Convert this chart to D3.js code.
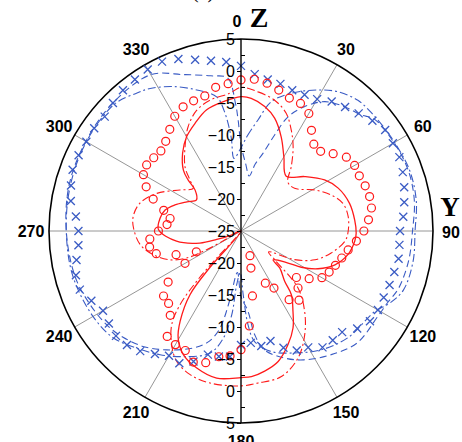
<!DOCTYPE html>
<html><head><meta charset="utf-8">
<script src="https://cdn.jsdelivr.net/npm/d3@7"></script>
<style>body{margin:0;background:#fff;} svg{display:block;}</style>
</head><body>
<svg id="chart" width="462" height="442"></svg>
<script>
// ---------- data ----------
const angleTicks = [0,30,60,90,120,150,180,210,240,270,300,330];
const radialTicks = [-25,-20,-15,-10,-5,0,5];
const minorTicks = [-22.5,-17.5,-12.5,-7.5,-2.5,2.5];

const markerAngles = [0,5,10,15,20,25,30,35,40,45,50,55,60,65,70,75,80,85,90,95,100,105,110,115,
  120,125,130,135,140,145,150,155,160,165,170,175,180,185,190,195,200,205,210,215,220,225,230,235,
  240,245,250,255,260,265,270,275,280,285,290,295,300,305,310,315,320,325,330,335,340,345,350,355];

// blue crosses
const crossValues = [0.8,-0.4,-0.95,-1.2,-1.6,-1.5,-1.2,-0.3,0.3,1.0,1.8,2.5,2.4,2.3,1.9,1.4,0.9,0.45,
  -0.15,-0.15,0,-0.2,-0.3,-0.4,-0.3,-0.4,-1.3,-2.65,-2.7,-2.8,-4.0,-4.4,-5.6,-7.2,-6.75,-7.45,
  -7.2,-5.3,-5.1,-5.0,-3.3,-2.2,-2.5,-1.55,-0.5,0.2,0.5,0.2,-0.1,0.8,1.8,1.7,1.1,0.5,
  0.4,0.9,2.0,2.5,3.0,3.0,2.9,3.0,2.8,3.3,3.7,3.9,4.15,4.2,3.6,2.7,2.0,1.5];

// red circles
const circleValues = [-1.4,-1.2,-1.55,-2.2,-2.9,-3.0,-3.8,-5.8,-7.3,-7.4,-6.2,-4.9,-4.5,-4.6,-4.35,-4.2,-4.3,-5.0,
  -5.8,-6.9,-8.0,-8.7,-9.3,-9.8,-10.4,-12.0,-13.7,-12.4,-10.9,-11.9,-14.7,-16.0,-20.9,-19,-14.7,-10.1,
  -6.45,-5.4,-5.05,-3.7,-3.2,-4.4,-4.5,-4.9,-7.8,-9.0,-9.2,-11.1,-14.9,-17.3,-14.2,-11.3,-10.5,-10.7,
  -12.1,-13.4,-13.75,-12.5,-10.4,-8.65,-7.4,-7.0,-7.2,-7.3,-6.7,-5.6,-4.3,-3.6,-3.35,-3.15,-2.2,-1.9];

// blue dashed line [angle, value]
const blueDashed = [[0,-11.5],[4,-14.5],[8.5,-16.3],[12,-14.3],[15.8,-12.4],[19.3,-9.1],[22.4,-5.7],[27,-3.2],
  [33,-0.9],[40,0.3],[46,1.1],[50,2.2],[60,2.6],[70,2.8],[80,2.5],[90,1.8],[100,1.6],[110,1.2],[116,0.5],
  [122,0.2],[134,0.2],[144,-1.1],[154,-2.6],[161,-4.0],[169,-6.1],[172.5,-8.7],[175,-12.4],[180,-14.8],
  [185,-18.5],[189,-14.5],[191,-11],[192.5,-9.2],[196,-7.1],[202,-5.3],[212,-3.1],[220,-1.4],[228,-0.2],
  [235,0.6],[245,1.3],[255,1.9],[270,2.3],[285,2.8],[300,3.0],[315,3.3],[330,3.2],[340,1.0],[349,-0.3],
  [355,-1.0],[357.5,-5],[358.5,-7.6]];

// blue dash-dot line
const blueDashDot = [[0,-12],[4,-10],[8.7,-7.45],[13.2,-4.25],[20,-2.1],[28.6,0.1],[34.8,1.5],[41.8,2.4],
  [48,2.5],[55,2.6],[60,2.7],[70,3.0],[80,2.8],[90,2.2],[100,2.3],[110,2.0],[116,0.8],[121,-0.6],[135,-1.4],
  [146,-2.6],[155,-4.0],[166,-5.6],[173,-7.6],[175.7,-10.3],[178,-15],[181,-18.5],[184.6,-16.6],[186.3,-11.8],
  [189.4,-8.0],[194.3,-5.3],[204.7,-3.4],[213.2,-1.9],[221.7,-0.5],[230,1.0],[240,1.7],[255,2.2],[270,2.3],
  [285,2.6],[300,2.9],[315,3.0],[323,2.0],[327.5,1.4],[335,-0.1],[343,-2.0],[349.7,-3.7],[352,-6],
  [354,-10.2],[354.5,-13.6]];

// red solid line
const redSolid = [[0,-4.0],[4.4,-4.2],[10.8,-5.2],[16.6,-6.6],[23.1,-9.0],[30,-11.6],[39.5,-13.9],[49.5,-11.9],
  [58.6,-9.7],[66.2,-8.4],[75.7,-7.5],[84.5,-7.15],[91,-7.0],[95,-7.15],[102.5,-7.9],[109.8,-9.4],[116.1,-11.6],
  [121,-14],[124.2,-16.1],[132,-18.25],[133.7,-16.6],[139,-14.6],[141.7,-12.3],[147.1,-10.05],[151.8,-7.8],
  [157.5,-5.8],[164.1,-3.8],[170.4,-2.8],[175.9,-2.2],[180,-2.1],[189.4,-1.7],[197.9,-2.5],[205,-3.7],
  [210.4,-5.6],[214,-8.0],[218.7,-12.25],[220.5,-17.5],[222,-25],[248,-23],[251,-21],[253.7,-18.3],
  [261,-14.8],[271,-12.1],[278.9,-12.2],[285.4,-12.7],[291.5,-13.9],[298.4,-15.4],[305,-16.5],[311.7,-15.4],
  [314,-13.5],[316.6,-11.9],[323.1,-9.8],[330,-8.0],[336.9,-6.7],[344.2,-5.3],[352.2,-4.6]];

// red dash-dot line
const redDashDot = [[0,-2.55],[7,-3.1],[14.4,-3.9],[21,-5.3],[26.5,-7.4],[31.7,-9.5],[38,-12.25],[43.6,-14.4],
  [51.5,-14.3],[60.9,-11.8],[68.3,-9.8],[74.8,-8.5],[82.4,-8.1],[91.2,-8.3],[95.7,-8.7],[103.7,-10.5],
  [111.3,-12.6],[118.1,-15.5],[127.2,-19.6],[130.4,-18.1],[135,-12.4],[141.6,-9.0],[148.4,-6.0],[155.8,-3.25],
  [164.5,-1.4],[173.6,-1.1],[180,-0.8],[191.5,-0.75],[199.5,-1.2],[206.3,-2.3],[211.4,-4.2],[216.5,-6.8],
  [219.6,-10.05],[221.4,-14.5],[222,-19.3],[223,-25],[241,-22],[241.5,-18.8],[243.6,-15.5],[248,-13.0],
  [254.9,-10.8],[262.3,-9.1],[271.6,-8.2],[277.6,-8.0],[285.3,-8.6],[294.1,-10.6],[303.9,-13.5],[311.8,-15],
  [315,-13.7],[318.9,-11.7],[326.4,-9.2],[333.2,-6.7],[339.9,-4.9],[346.7,-4.0],[355.4,-3.4]];

// ---------- drawing ----------
const cx = 241, cy = 231, R = 192;
const BLUE = "#3a5bc4", RED = "#ff1a1a";
const svg = d3.select("#chart");
const g = svg.append("g").attr("transform", `translate(${cx},${cy})`);
const r = d3.scaleLinear().domain([-25, 5]).range([0, R]);
const rad = a => a * Math.PI / 180;
const px = (a, v) => r(v) * Math.sin(rad(a));
const py = (a, v) => -r(v) * Math.cos(rad(a));

// radial gridlines
g.selectAll("line.grid").data(angleTicks.filter(a => a % 180 !== 0)).join("line")
  .attr("class", "grid").attr("x1", 0).attr("y1", 0)
  .attr("x2", a => px(a, 5)).attr("y2", a => py(a, 5))
  .attr("stroke", "#8a8a8a").attr("stroke-width", 0.9);

// outer circle
g.append("circle").attr("r", r(5)).attr("fill", "none").attr("stroke", "#000").attr("stroke-width", 1.6);

// angle labels
g.selectAll("text.ang").data(angleTicks).join("text")
  .attr("class", "ang")
  .attr("x", a => (R + 18) * Math.sin(rad(a)) + (a === 0 ? -4 : 0))
  .attr("y", a => -(R + 18) * Math.cos(rad(a)) + (a === 90 ? 1 : 0))
  .attr("text-anchor", "middle").attr("dominant-baseline", "central")
  .attr("font-family", "'Liberation Sans', Arial, sans-serif").attr("font-weight", "bold").attr("font-size", 16)
  .text(a => a);

// lines
const lineGen = d3.lineRadial().angle(d => rad(d[0])).radius(d => r(d[1]))
  .curve(d3.curveCatmullRomClosed.alpha(0.5));

g.append("path").attr("d", lineGen(blueDashed)).attr("fill", "none")
  .attr("stroke", BLUE).attr("stroke-width", 1.1).attr("stroke-dasharray", "7,4");
g.append("path").attr("d", lineGen(blueDashDot)).attr("fill", "none")
  .attr("stroke", BLUE).attr("stroke-width", 1.1).attr("stroke-dasharray", "8,3,2,3");
g.append("path").attr("d", lineGen(redDashDot)).attr("fill", "none")
  .attr("stroke", RED).attr("stroke-width", 1.1).attr("stroke-dasharray", "8,3,2,3");
g.append("path").attr("d", lineGen(redSolid)).attr("fill", "none")
  .attr("stroke", RED).attr("stroke-width", 1.3);

// crosses
g.selectAll("path.cross").data(markerAngles.map((a, i) => [a, crossValues[i]])).join("path")
  .attr("class", "cross")
  .attr("transform", d => `translate(${px(d[0], d[1])},${py(d[0], d[1])})`)
  .attr("d", "M-4,-4L4,4M-4,4L4,-4")
  .attr("stroke", BLUE).attr("stroke-width", 1.3).attr("fill", "none");

// circles
g.selectAll("circle.pt").data(markerAngles.map((a, i) => [a, circleValues[i]])).join("circle")
  .attr("class", "pt")
  .attr("cx", d => px(d[0], d[1])).attr("cy", d => py(d[0], d[1])).attr("r", 4)
  .attr("fill", "none").attr("stroke", RED).attr("stroke-width", 1.2);

// radial axis (vertical)
const yUp = d3.scaleLinear().domain([-25, 5]).range([0, -R]);
const yDown = d3.scaleLinear().domain([-25, 5]).range([0, R]);
const axFont = g => g.attr("font-family", "'Liberation Sans', Arial, sans-serif").attr("font-size", 16);
g.append("line").attr("x1", 0).attr("x2", 0).attr("y1", -R).attr("y2", R).attr("stroke", "#000").attr("stroke-width", 1.4);
g.append("g").call(d3.axisLeft(yUp).tickValues(radialTicks).tickSize(4).tickPadding(2))
  .call(axFont).call(s => s.select(".domain").remove());
g.append("g").call(d3.axisLeft(yDown).tickValues(radialTicks.filter(v => v > -25)).tickSize(4).tickPadding(2))
  .call(axFont).call(s => s.select(".domain").remove());
g.append("g").call(d3.axisRight(yUp).tickValues(minorTicks).tickSize(4).tickFormat(""))
  .call(s => s.select(".domain").remove());
g.append("g").call(d3.axisRight(yDown).tickValues(minorTicks).tickSize(4).tickFormat(""))
  .call(s => s.select(".domain").remove());
g.selectAll(".tick text").attr("fill", "#000");
g.selectAll(".tick line").attr("stroke", "#000");

// axis titles
svg.append("text").attr("x", 259).attr("y", 27).attr("text-anchor", "middle")
  .attr("font-family", "'Liberation Serif', 'Times New Roman', serif").attr("font-weight", "bold").attr("font-size", 28).text("Z");
svg.append("text").attr("x", 450).attr("y", 216).attr("text-anchor", "middle")
  .attr("font-family", "'Liberation Serif', 'Times New Roman', serif").attr("font-weight", "bold").attr("font-size", 27).text("Y");
svg.append("text").attr("x", 203).attr("y", -2).attr("text-anchor", "middle")
  .attr("font-family", "'Liberation Serif', 'Times New Roman', serif").attr("font-size", 20).text("(a)");
</script>
</body></html>
